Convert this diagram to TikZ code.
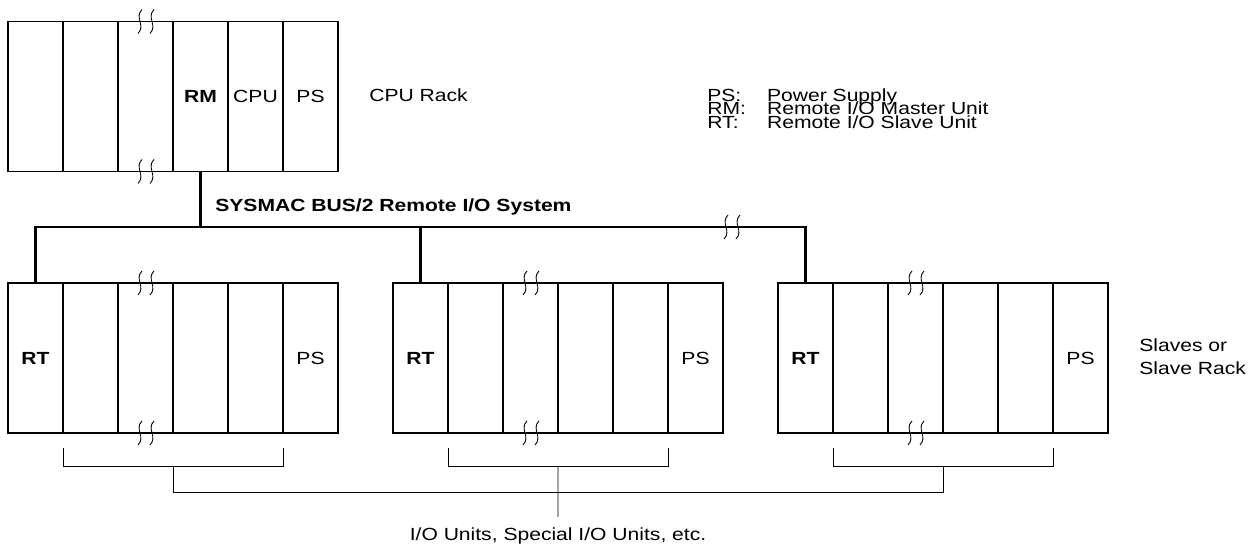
\documentclass[tikz,border=0pt]{standalone}
\usepackage{fontspec}
\setmainfont{Liberation Sans}[FakeStretch=1.2]
\usetikzlibrary{positioning}

% break mark drawn across a rail: two small S-curves
\newcommand{\railbreak}[2]{%
  \foreach \dx in {-6,6} {
    \draw[brkline] ({#1+\dx+2},{#2-12}) .. controls ({#1+\dx-6},{#2-4}) and ({#1+\dx+6},{#2+4}) .. ({#1+\dx-2},{#2+12});
  }}
\newcommand{\tightlines}{\fontsize{10}{7.8}\selectfont\setlength{\lineskiplimit}{-100pt}}

\begin{document}
\begin{tikzpicture}[
    x=0.02cm, y=-0.02cm,
    font=\fontsize{10}{12}\selectfont,
    slot/.style={rectangle, draw, line width=0.6pt, minimum width=1.1cm,
                 minimum height=3cm, inner sep=0pt, outer sep=0pt},
    txt/.style={inner sep=0pt},
    bus/.style={line width=1.4pt},
    brkline/.style={line width=0.5pt},
    brace/.style={line width=0.5pt},
  ]
  \useasboundingbox (0,0) rectangle (1255,546);

  % ---- CPU rack ----
  \foreach \i in {1,...,6}
    \node[slot] (c\i) at ({35.5+55*(\i-1)},96.5) {};
  \node at (c4) {\bfseries RM};
  \node at (c5) {CPU};
  \node at (c6) {PS};
  \railbreak{146}{21.5}
  \railbreak{146}{171.5}
  \node[txt, anchor=base west] (cpurack) at (369,101.5) {CPU Rack};

  % ---- Legend ----
  \node[txt, anchor=north west, align=left, font=\tightlines] (legend) at (707,88)
    {\makebox[34pt][l]{PS:}Power Supply\\
     \makebox[34pt][l]{RM:}Remote I/O Master Unit\\
     \makebox[34pt][l]{RT:}Remote I/O Slave Unit};

  % ---- Slave racks ----
  \foreach \rk/\xo in {1/8,2/393,3/778} {
    \foreach \i in {1,...,6}
      \node[slot] (r\rk s\i) at ({\xo+27.5+55*(\i-1)},358) {};
    \node at (r\rk s1) {\bfseries RT};
    \node at (r\rk s6) {PS};
    \railbreak{\xo+138}{283}
    \railbreak{\xo+138}{433}
    % bracket under the I/O slots
    \draw[brace] ([yshift=-0.3cm]r\rk s2.south west) -- ++(0,18)
      -| ([yshift=-0.3cm]r\rk s5.south east);
    \coordinate (io\rk) at ([yshift=-0.66cm]r\rk s4.south west);
  }
  \node[txt, anchor=west, align=left, font=\fontsize{10}{13}\selectfont] (slaves)
    at (1139,357) {Slaves or\\Slave Rack};

  % ---- Remote I/O bus ----
  \coordinate (busy) at (0,227);
  \draw[bus] (c4.south) -- (c4.south |- busy);
  \draw[bus] (r1s1.north) -- (r1s1.north |- busy) -- (r3s1.north |- busy) -- (r3s1.north);
  \draw[bus] (r2s1.north) -- (r2s1.north |- busy);
  \railbreak{732}{227}
  \node[txt, anchor=base west] (buslabel) at (215,211.7) {\bfseries SYSMAC BUS/2 Remote I/O System};

  % ---- I/O units tie ----
  \draw[brace] (io1) -- ++(0,26) -| (io3);
  \node[anchor=north, inner xsep=0pt, inner ysep=6pt] (iolabel) at (558,517)
    {I/O Units, Special I/O Units, etc.};
  \draw[brace] (io2) -- (iolabel.north);
\end{tikzpicture}
\end{document}
